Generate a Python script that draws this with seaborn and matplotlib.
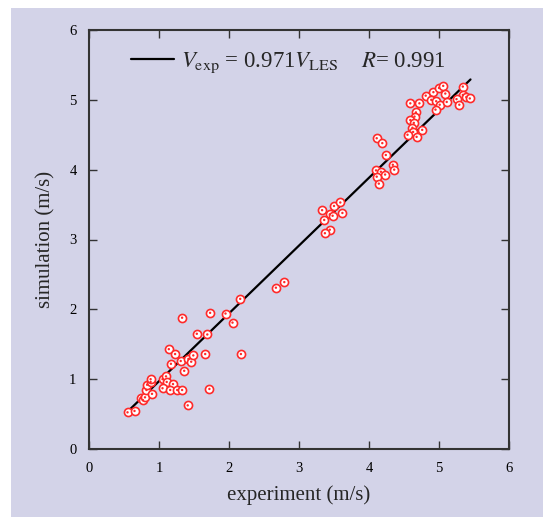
import matplotlib
matplotlib.use("Agg")
import matplotlib.pyplot as plt
from matplotlib.patches import Rectangle
import pandas as pd
import seaborn as sns

# experiment vs simulation velocities (m/s)
experiment = [0.55, 0.65, 0.74, 0.77, 0.80, 0.82, 0.83, 0.88, 0.88, 0.90,
              1.05, 1.10, 1.11, 1.20, 1.05, 1.16, 1.26, 1.33, 1.41, 1.72,
              1.36, 1.17, 1.31, 1.42, 1.46, 1.49, 1.66, 1.14, 1.23, 1.54,
              1.69, 1.33, 1.73, 1.95, 2.05, 2.17, 2.16, 2.67, 2.79,
              3.33, 3.50, 3.59, 3.62, 3.44, 3.48, 3.36, 3.44, 3.37,
              4.11, 4.19, 4.24, 4.34, 4.36, 4.10, 4.17, 4.23, 4.11, 4.14,
              4.59, 4.72, 4.81, 4.92, 5.00, 5.06, 5.09, 4.89, 4.96, 5.01,
              5.11, 4.95, 4.67, 4.65, 4.59, 4.64, 4.62, 4.63, 4.76, 4.55,
              4.68, 5.34, 5.34, 5.25, 5.29, 5.39, 5.44]
simulation = [0.525, 0.545, 0.735, 0.70, 0.74, 0.845, 0.92, 0.96, 1.00, 0.79,
              1.00, 1.04, 0.96, 0.93, 0.87, 0.845, 0.845, 0.845, 0.625, 0.86,
              1.12, 1.22, 1.26, 1.29, 1.25, 1.34, 1.36, 1.43, 1.36, 1.65,
              1.64, 1.88, 1.95, 1.94, 1.81, 1.36, 2.15, 2.31, 2.39,
              3.42, 3.48, 3.53, 3.38, 3.36, 3.34, 3.28, 3.14, 3.09,
              4.45, 4.38, 4.21, 4.07, 4.00, 3.99, 3.97, 3.93, 3.90, 3.80,
              4.95, 4.95, 5.06, 5.11, 5.17, 5.20, 5.09, 5.00, 4.98, 4.93,
              4.97, 4.86, 4.82, 4.76, 4.71, 4.67, 4.60, 4.54, 4.57, 4.50,
              4.47, 5.19, 5.07, 5.01, 4.93, 5.04, 5.02]

# fitted line V_sim = 0.971 V_exp
fit_slope = 0.971
fit_x = [0.57, 5.45]
fit_label = r"$V_{\rm exp}$ = 0.971$V_{\rm LES}$    $R$= 0.991"

df = pd.DataFrame({"experiment": experiment, "simulation": simulation})
fit_df = pd.DataFrame({"x": fit_x, "y": [fit_slope * v for v in fit_x]})

sns.set_style("ticks")
plt.rcParams["font.family"] = ["Liberation Serif", "DejaVu Serif"]
plt.rcParams["mathtext.fontset"] = "stix"

bg = "#d3d3e8"
fig = plt.figure(figsize=(5.47, 5.17), dpi=100, facecolor="white")
fig.patches.append(Rectangle((11 / 547, 0), 532 / 547, 509 / 517,
                             transform=fig.transFigure, facecolor=bg,
                             edgecolor="none", zorder=-10))
ax = fig.add_axes([89 / 547, 1 - 449 / 517, 420 / 547, 419 / 517])
ax.set_facecolor(bg)

sns.lineplot(data=fit_df, x="x", y="y", color="black", linewidth=1.6,
             label=fit_label, ax=ax)
sns.scatterplot(data=df, x="experiment", y="simulation", marker="o", s=34,
                facecolor="white", edgecolor="#ff2a2a", linewidth=1.2,
                zorder=3, ax=ax)
sns.scatterplot(data=df, x="experiment", y="simulation", marker="o", s=3,
                color="#ff2a2a", edgecolor="none", zorder=4, ax=ax)

ax.set_xlim(0, 6)
ax.set_ylim(0, 6)
ax.set_xticks(range(0, 7))
ax.set_yticks(range(0, 7))
ax.tick_params(direction="in", length=6, width=1, labelsize=10.5,
               top=True, right=True, pad=9, colors="#333333",
               labelcolor="black")
for sp in ax.spines.values():
    sp.set_linewidth(1.5)
    sp.set_color("#333333")

ax.set_xlabel("experiment (m/s)", fontsize=15, labelpad=8)
ax.set_ylabel("simulation (m/s)", fontsize=15, labelpad=10)

ax.legend(loc="upper center", bbox_to_anchor=(0.475, 1.0), frameon=False,
          fontsize=16.5, handlelength=1.9, handletextpad=0.3)

fig.savefig("out.png", dpi=100, facecolor="white")
